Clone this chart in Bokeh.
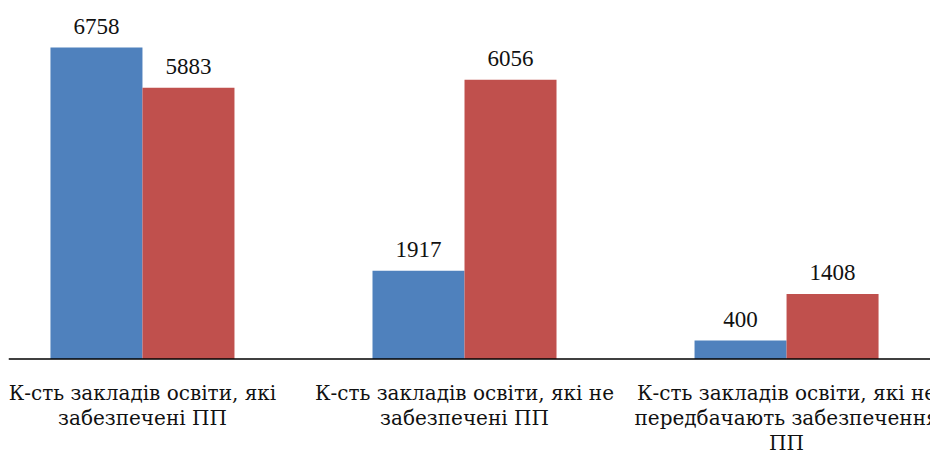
import numpy as np
from bokeh.plotting import figure
from bokeh.models import Range1d, ColumnDataSource, LabelSet, Span
from bokeh.core.properties import value
from bokeh.embed import file_html
from bokeh.resources import INLINE

categories = [
    "К-сть закладів освіти, які\nзабезпечені ПП",
    "К-сть закладів освіти, які не\nзабезпечені ПП",
    "К-сть закладів освіти, які не\nпередбачають забезпечення\nПП",
]
series_blue = [6758, 1917, 400]
series_red = [5883, 6056, 1408]

BLUE = "#4F81BD"
RED = "#C0504D"
FONT_NUM = value("Liberation Serif")
FONT_CYR = value("DejaVu Serif")

idx = np.arange(len(categories))
bw = 0.2857

p = figure(width=930, height=455, output_backend="svg", toolbar_location=None,
           x_range=Range1d(-0.416, 2.447), y_range=Range1d(-2094, 7778),
           x_axis_location=None, y_axis_location=None,
           min_border_left=8, min_border_right=0, min_border_top=0, min_border_bottom=0)
p.outline_line_color = None
p.grid.visible = False
p.background_fill_color = "white"
p.border_fill_color = "white"

src_b = ColumnDataSource(dict(x=idx - bw / 2, top=series_blue, lab=[str(v) for v in series_blue]))
src_r = ColumnDataSource(dict(x=idx + bw / 2, top=series_red, lab=[str(v) for v in series_red]))
p.vbar(x="x", top="top", width=bw, bottom=0, source=src_b, fill_color=BLUE, line_color=None)
p.vbar(x="x", top="top", width=bw, bottom=0, source=src_r, fill_color=RED, line_color=None)

# baseline (category axis line)
p.add_layout(Span(location=0, dimension="width", line_color="black", line_width=1.5))

for src in (src_b, src_r):
    p.add_layout(LabelSet(x="x", y="top", text="lab", source=src, y_offset=14,
                          text_align="center", text_baseline="alphabetic",
                          text_font=FONT_NUM, text_font_size="23px", text_color="#111111"))

# category labels, one annotation per wrapped line
lx, ly, lt, loff = [], [], [], []
for i, c in zip(idx, categories):
    for k, line in enumerate(c.split("\n")):
        lx.append(float(i)); ly.append(0.0); lt.append(line); loff.append(-41 - 25 * k)
src_c = ColumnDataSource(dict(x=lx, y=ly, t=lt, off=loff))
p.add_layout(LabelSet(x="x", y="y", text="t", source=src_c, y_offset="off",
                      text_align="center", text_baseline="alphabetic",
                      text_font=FONT_CYR, text_font_size="20px", text_color="#111111"))

open("out.html", "w").write(file_html(p, INLINE))
